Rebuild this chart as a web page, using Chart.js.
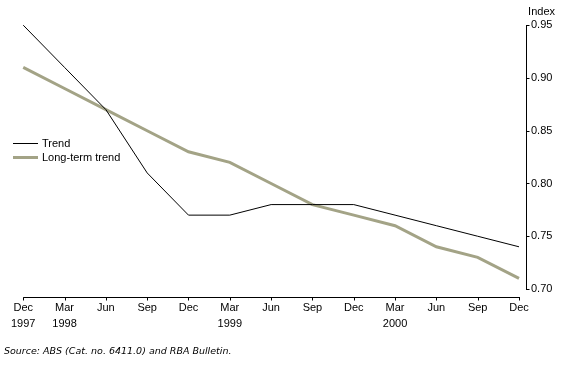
<!DOCTYPE html>
<html>
<head>
<meta charset="utf-8">
<script src="https://cdn.jsdelivr.net/npm/chart.js@4"></script>
<style>
  body { margin: 0; background: #fff; }
  #wrap { position: relative; width: 567px; height: 378px; font-family: "Liberation Sans", Arial, sans-serif; }
  #legend { position: absolute; left: 13px; top: 136px; font-size: 11px; color: #000; }
  #legend .row { display: flex; align-items: center; height: 14px; }
  #legend .swatch { width: 25px; margin-right: 4px; }
  #source { position: absolute; left: 4px; top: 345px; font-family: "DejaVu Sans", sans-serif; font-size: 9.5px; font-style: italic; color: #000; }
</style>
</head>
<body>
<div id="wrap">
  <canvas id="chart" width="567" height="378"></canvas>
  <div id="legend"></div>
  <div id="source">Source: ABS (Cat. no. 6411.0) and RBA Bulletin.</div>
</div>
<script>
// quarterly, Dec 1997 to Dec 2000
const quarters = [
  ['Dec', '1997'], ['Mar', '1998'], 'Jun', 'Sep', 'Dec',
  ['Mar', '1999'], 'Jun', 'Sep', 'Dec',
  ['Mar', '2000'], 'Jun', 'Sep', 'Dec'
];
const trend = [0.95, 0.91, 0.87, 0.81, 0.77, 0.77, 0.78, 0.78, 0.78, 0.77, 0.76, 0.75, 0.74];
const longTermTrend = [0.91, 0.89, 0.87, 0.85, 0.83, 0.82, 0.80, 0.78, 0.77, 0.76, 0.74, 0.73, 0.71];
const yTicks = [0.70, 0.75, 0.80, 0.85, 0.90, 0.95];

const FONT = { family: '"Liberation Sans", Arial, sans-serif', size: 11 };

// axis lines drawn off the chart area, like the original
const axesPlugin = {
  id: 'axes',
  afterDraw(chart) {
    const { ctx, chartArea, scales: { x, y } } = chart;
    ctx.save();
    ctx.strokeStyle = '#000';
    ctx.lineWidth = 1;
    ctx.beginPath();
    const xy = Math.round(chartArea.bottom + 8) + 0.5;
    ctx.moveTo(x.getPixelForValue(0), xy);
    ctx.lineTo(x.getPixelForValue(quarters.length - 1) + 1, xy);
    quarters.forEach((q, i) => {
      const px = Math.round(x.getPixelForValue(i)) + 0.5;
      ctx.moveTo(px, xy);
      ctx.lineTo(px, xy + 3);
    });
    const yx = Math.round(chartArea.right + 7) + 0.5;
    ctx.moveTo(yx, Math.round(y.getPixelForValue(0.95)));
    ctx.lineTo(yx, Math.round(y.getPixelForValue(0.70)) + 1);
    yTicks.forEach(v => {
      const py = Math.round(y.getPixelForValue(v)) + 0.5;
      ctx.moveTo(yx, py);
      ctx.lineTo(yx + 3, py);
    });
    ctx.stroke();
    ctx.restore();
  }
};

const chart = new Chart(document.getElementById('chart'), {
  type: 'line',
  data: {
    labels: quarters,
    datasets: [
      {
        label: 'Trend',
        data: trend,
        borderColor: '#000000',
        borderWidth: 1,
        pointRadius: 0,
        tension: 0,
        clip: false,
        order: 1
      },
      {
        label: 'Long-term trend',
        data: longTermTrend,
        borderColor: '#a3a386',
        borderWidth: 3,
        pointRadius: 0,
        tension: 0,
        clip: false,
        order: 2
      }
    ]
  },
  options: {
    responsive: false,
    devicePixelRatio: 1,
    animation: false,
    layout: { padding: { left: 17, right: 12, top: 0, bottom: 0 } },
    plugins: {
      legend: { display: false },
      tooltip: { enabled: false },
      title: {
        display: true,
        text: 'Index',
        align: 'end',
        color: '#000',
        font: { ...FONT, weight: 'normal' },
        padding: { top: 5, bottom: 7 }
      }
    },
    scales: {
      x: {
        type: 'category',
        offset: false,
        grid: { display: false, drawTicks: false },
        border: { display: false },
        ticks: {
          color: '#000',
          font: { ...FONT, lineHeight: 1.45 },
          padding: 11,
          maxRotation: 0,
          autoSkip: false
        },
        afterFit(s) { s.height = 89; }
      },
      y: {
        position: 'right',
        min: 0.70,
        max: 0.95,
        grid: { display: false, drawTicks: false },
        border: { display: false },
        afterBuildTicks(s) { s.ticks = yTicks.map(v => ({ value: v })); },
        ticks: {
          color: '#000',
          font: FONT,
          padding: 12,
          callback: v => v.toFixed(2)
        },
        afterFit(s) { s.width = 36; }
      }
    }
  },
  plugins: [axesPlugin]
});

// legend built from the datasets
const legend = document.getElementById('legend');
chart.data.datasets.forEach(ds => {
  const row = document.createElement('div');
  row.className = 'row';
  const sw = document.createElement('div');
  sw.className = 'swatch';
  sw.style.borderTop = ds.borderWidth + 'px solid ' + ds.borderColor;
  const txt = document.createElement('span');
  txt.textContent = ds.label;
  row.appendChild(sw);
  row.appendChild(txt);
  legend.appendChild(row);
});
</script>
</body>
</html>
